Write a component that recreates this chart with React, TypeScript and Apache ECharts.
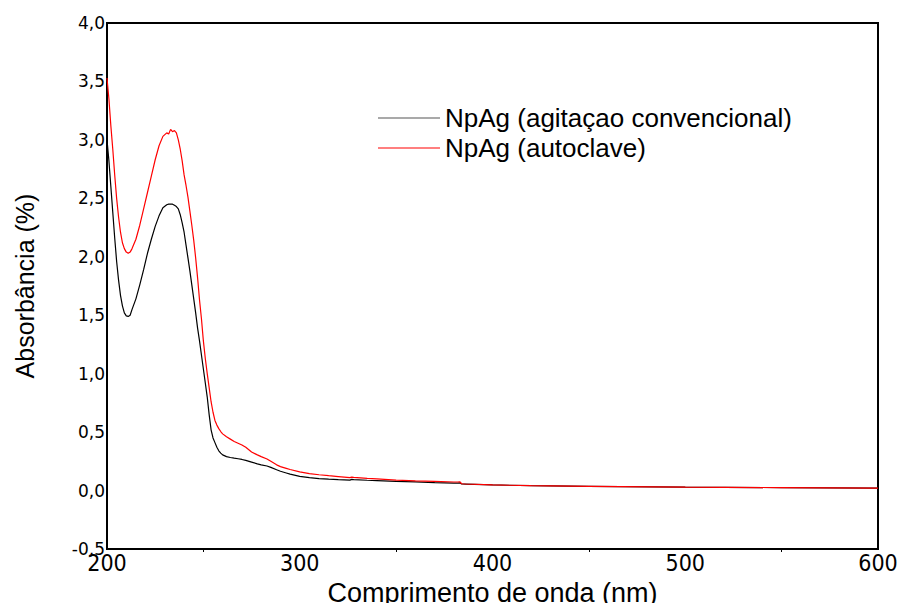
import React, { useEffect, useRef } from "react";
import * as echarts from "echarts";

const wavelengths = [
  200, 201, 202, 203, 204, 205, 206, 207, 208, 209, 210, 211, 212, 213, 215, 217, 219, 221, 223, 225, 227, 229, 231,
  232, 233, 234, 235, 236, 237, 238, 239, 240, 241, 242, 243, 244, 245, 246, 247, 248, 249, 250, 251, 252, 253, 254,
  255, 256, 257, 258, 259, 260, 262, 264, 266, 268, 270, 272, 275, 278, 280, 283, 285, 288, 290, 293, 295, 300, 305,
  310, 315, 320, 326, 327, 328, 335, 340, 350, 360, 370, 380, 382, 383, 384, 386, 400, 420, 450, 500, 550, 600,
];

const agitacao = [
  3.0, 2.82, 2.6, 2.38, 2.16, 1.96, 1.8, 1.67, 1.58, 1.52, 1.495, 1.49, 1.5, 1.55, 1.64, 1.76, 1.89, 2.03, 2.15, 2.26,
  2.35, 2.42, 2.445, 2.45, 2.45, 2.45, 2.44, 2.43, 2.41, 2.36, 2.29, 2.21, 2.1, 1.99, 1.88, 1.76, 1.64, 1.52, 1.39,
  1.28, 1.16, 1.04, 0.92, 0.8, 0.65, 0.52, 0.45, 0.41, 0.37, 0.34, 0.32, 0.305, 0.29, 0.283, 0.277, 0.272, 0.266,
  0.258, 0.243, 0.228, 0.22, 0.21, 0.198, 0.178, 0.165, 0.15, 0.14, 0.122, 0.11, 0.102, 0.097, 0.093, 0.089, 0.096,
  0.094, 0.088, 0.085, 0.079, 0.074, 0.068, 0.063, 0.063, 0.066, 0.056, 0.055, 0.048, 0.042, 0.036, 0.03, 0.025, 0.02,
];

const autoclave = [
  3.53, 3.35, 3.12, 2.92, 2.7, 2.5, 2.34, 2.21, 2.12, 2.07, 2.04, 2.03, 2.04, 2.07, 2.15, 2.27, 2.41, 2.55, 2.69, 2.83,
  2.95, 3.03, 3.06, 3.05, 3.09, 3.07, 3.08, 3.06, 3.0, 2.92, 2.82, 2.7, 2.61, 2.51, 2.39, 2.27, 2.14, 1.99, 1.82, 1.63,
  1.47, 1.28, 1.13, 1.0, 0.88, 0.76, 0.67, 0.6, 0.56, 0.53, 0.505, 0.485, 0.46, 0.44, 0.42, 0.405, 0.39, 0.37, 0.33,
  0.305, 0.29, 0.27, 0.25, 0.22, 0.205, 0.19, 0.18, 0.16, 0.145, 0.135, 0.127, 0.12, 0.11, 0.115, 0.113, 0.105, 0.1,
  0.09, 0.083, 0.078, 0.073, 0.073, 0.075, 0.058, 0.056, 0.048, 0.042, 0.036, 0.03, 0.025, 0.02,
];

const seriesNames = ["NpAg (agitaçao convencional)", "NpAg (autoclave)"];
const xTitle = "Comprimento de onda (nm)";
const yTitle = "Absorbância (%)";

export default function App() {
  const ref = useRef<HTMLDivElement>(null);
  useEffect(() => {
    if (!ref.current) return;
    const chart = echarts.init(ref.current, undefined, { renderer: "svg" });
    const pairs = (vals: number[]) => wavelengths.map((w, i) => [w, vals[i]]);
    chart.setOption({
      animation: false,
      backgroundColor: "#ffffff",
      grid: {
        left: 107,
        right: 19,
        top: 23,
        bottom: 54,
        show: true,
        borderColor: "#000",
        borderWidth: 2,
        outerBoundsMode: "none",
        containLabel: false,
      },
      legend: {
        orient: "vertical",
        left: 373,
        top: 100,
        itemWidth: 62,
        itemHeight: 1,
        itemGap: 4,
        icon: "rect",
        textStyle: { fontFamily: "Liberation Sans, Arial", fontSize: 26, color: "#000" },
        data: seriesNames,
      },
      xAxis: {
        type: "value",
        min: 200,
        max: 600,
        interval: 100,
        name: xTitle,
        nameLocation: "middle",
        nameGap: 30,
        nameTextStyle: { fontFamily: "Liberation Sans, Arial", fontSize: 27, color: "#000" },
        axisLine: { show: true, onZero: false, lineStyle: { color: "#000", width: 2 } },
        axisTick: { show: false },
        minorTick: { show: true, splitNumber: 2, length: 3, lineStyle: { color: "#000" } },
        splitLine: { show: false },
        axisLabel: {
          margin: 2,
          fontFamily: "Liberation Sans Narrow, DejaVu Sans Condensed, Arial",
          fontSize: 23,
          color: "#000",
        },
      },
      yAxis: {
        type: "value",
        min: -0.5,
        max: 4,
        interval: 0.5,
        name: yTitle,
        nameLocation: "middle",
        nameGap: 70,
        nameTextStyle: { fontFamily: "Liberation Sans, Arial", fontSize: 25, color: "#000" },
        axisLine: { show: true, onZero: false, lineStyle: { color: "#000", width: 2 } },
        axisTick: { show: false },
        splitLine: { show: false },
        axisLabel: {
          margin: 2,
          fontFamily: "DejaVu Sans",
          fontSize: 17,
          color: "#000",
          formatter: (v: number) => v.toFixed(1).replace(".", ","),
        },
      },
      series: [
        {
          name: seriesNames[0],
          type: "line",
          data: pairs(agitacao),
          showSymbol: false,
          symbol: "none",
          lineStyle: { color: "#000", width: 1.2 },
          itemStyle: { color: "#555" },
        },
        {
          name: seriesNames[1],
          type: "line",
          data: pairs(autoclave),
          showSymbol: false,
          symbol: "none",
          lineStyle: { color: "#ff0000", width: 1.2 },
          itemStyle: { color: "#ff0000" },
        },
      ],
    });
    return () => chart.dispose();
  }, []);
  return <div ref={ref} style={{ width: 897, height: 603, position: "absolute", left: 0, top: 0 }} />;
}
